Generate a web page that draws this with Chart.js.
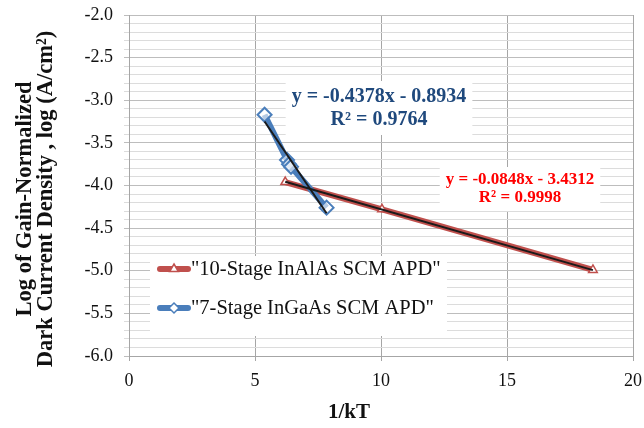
<!DOCTYPE html>
<html>
<head>
<meta charset="utf-8">
<title>Dark current vs 1/kT</title>
<script src="https://cdn.jsdelivr.net/npm/chart.js@4/dist/chart.umd.min.js"></script>
<style>
  html, body { margin: 0; padding: 0; background: #fff; }
  #wrap { width: 644px; height: 428px; position: relative; }
</style>
</head>
<body>
<div id="wrap"><canvas id="darkChart"></canvas></div>
<script>
// 10-Stage InAlAs SCM APD
const inalasX = [6.2, 10.04, 18.41];
const inalasY = [-3.96, -4.28, -4.99];
const inalasFit = { slope: -0.0848, intercept: -3.4312, r2: '0.9998' };

// 7-Stage InGaAs SCM APD
const ingaasX = [5.38, 6.27, 6.35, 6.43, 7.84];
const ingaasY = [-3.17, -3.70, -3.75, -3.78, -4.26];
const ingaasFit = { slope: -0.4378, intercept: -0.8934, r2: '0.9764' };

const seriesNames = ['"10-Stage InAlAs SCM APD"', '"7-Stage InGaAs SCM APD"'];
const xTicks = [0, 5, 10, 15, 20];
const yTicks = [-2.0, -2.5, -3.0, -3.5, -4.0, -4.5, -5.0, -5.5, -6.0];

const SERIF = '"Liberation Serif", "Times New Roman", serif';
const RED = '#C0504D';
const BLUE = '#4A7EBB';

function toPoints(xs, ys) {
  return xs.map((x, i) => ({ x: x, y: ys[i] }));
}

// linear trendline between the smallest and largest x of a series
function trendPoints(xs, fit) {
  const lo = Math.min(...xs), hi = Math.max(...xs);
  return [lo, hi].map(x => ({ x: x, y: fit.slope * x + fit.intercept }));
}

function isMajorY(v) {
  return yTicks.some(t => Math.abs(t - v) < 1e-6);
}

function eqText(fit) {
  const s = fit.intercept < 0 ? ' - ' : ' + ';
  return 'y = ' + fit.slope.toFixed(4) + 'x' + s + Math.abs(fit.intercept).toFixed(4);
}

// text box with white background (trendline equations)
function drawLabel(ctx, lines, cx, cy, size, gap, color) {
  ctx.save();
  ctx.font = 'bold ' + size + 'px ' + SERIF;
  const w = Math.max(...lines.map(l => ctx.measureText(l).width));
  const h = gap * lines.length;
  ctx.fillStyle = '#fff';
  ctx.fillRect(cx - w / 2 - 6, cy - h / 2 - 4, w + 12, h + 8);
  ctx.fillStyle = color;
  ctx.textAlign = 'center';
  ctx.textBaseline = 'middle';
  lines.forEach((l, i) => ctx.fillText(l, cx, cy - h / 2 + gap * (i + 0.5)));
  ctx.restore();
}

function drawMarker(ctx, kind, x, y, color) {
  ctx.save();
  ctx.fillStyle = '#fff';
  ctx.strokeStyle = color;
  ctx.lineWidth = 1.5;
  ctx.beginPath();
  const r = 5;
  if (kind === 'triangle') {
    ctx.moveTo(x, y - r);
    ctx.lineTo(x + r * 0.87, y + r * 0.5);
    ctx.lineTo(x - r * 0.87, y + r * 0.5);
  } else {
    ctx.moveTo(x, y - r);
    ctx.lineTo(x + r, y);
    ctx.lineTo(x, y + r);
    ctx.lineTo(x - r, y);
  }
  ctx.closePath();
  ctx.fill();
  ctx.stroke();
  ctx.restore();
}

const overlayPlugin = {
  id: 'overlay',
  afterDraw(chart) {
    const ctx = chart.ctx;

    // equations
    drawLabel(ctx, [eqText(ingaasFit), 'R² = ' + ingaasFit.r2], 379, 108, 20, 23, '#1F497D');
    drawLabel(ctx, [eqText(inalasFit), 'R² = ' + inalasFit.r2], 520, 189, 17, 18, '#FF0000');

    // legend
    ctx.save();
    ctx.fillStyle = '#fff';
    ctx.fillRect(150, 256, 297, 80);
    const rows = [
      { y: 269, color: RED, marker: 'triangle' },
      { y: 308, color: BLUE, marker: 'diamond' }
    ];
    rows.forEach((r, i) => {
      ctx.strokeStyle = r.color;
      ctx.lineWidth = 6;
      ctx.lineCap = 'round';
      ctx.beginPath();
      ctx.moveTo(160, r.y);
      ctx.lineTo(188, r.y);
      ctx.stroke();
      drawMarker(ctx, r.marker, 174, r.y, r.color);
      ctx.fillStyle = '#111';
      ctx.font = '20.5px ' + SERIF;
      ctx.textAlign = 'left';
      ctx.textBaseline = 'middle';
      ctx.fillText(seriesNames[i], 191, r.y + 1);
    });
    ctx.restore();

    // axis titles
    ctx.save();
    ctx.fillStyle = '#111';
    ctx.font = 'bold 21px ' + SERIF;
    ctx.textAlign = 'center';
    ctx.textBaseline = 'middle';
    ctx.fillText('1/kT', 349, 413);
    ctx.font = 'bold 22.5px ' + SERIF;
    ctx.translate(0, 199);
    ctx.rotate(-Math.PI / 2);
    ctx.fillText('Log of Gain-Normalized', 0, 25);
    ctx.fillText('Dark Current Density , log (A/cm²)', 0, 46);
    ctx.restore();
  }
};

const ctx = document.getElementById('darkChart').getContext('2d');

new Chart(ctx, {
  type: 'scatter',
  data: {
    datasets: [
      {
        label: 'InAlAs trend',
        data: trendPoints(inalasX, inalasFit),
        showLine: true,
        borderColor: '#1a1a1a',
        borderWidth: 2,
        pointRadius: 0,
        order: 1
      },
      {
        label: 'InGaAs trend',
        data: trendPoints(ingaasX, ingaasFit),
        showLine: true,
        borderColor: '#1a1a1a',
        borderWidth: 2,
        pointRadius: 0,
        order: 0
      },
      {
        label: seriesNames[0],
        data: toPoints(inalasX, inalasY),
        showLine: true,
        borderColor: RED,
        borderWidth: 6,
        pointStyle: 'triangle',
        pointRadius: 5,
        pointBackgroundColor: '#fff',
        pointBorderColor: RED,
        pointBorderWidth: 1.5,
        order: 3
      },
      {
        label: seriesNames[1],
        data: toPoints(ingaasX, ingaasY),
        showLine: true,
        borderColor: BLUE,
        borderWidth: 6,
        pointStyle: 'rectRot',
        pointRadius: 7,
        pointBackgroundColor: 'rgba(255,255,255,0.6)',
        pointBorderColor: BLUE,
        pointBorderWidth: 2,
        order: 2
      }
    ]
  },
  plugins: [overlayPlugin],
  options: {
    responsive: true,
    maintainAspectRatio: false,
    animation: false,
    layout: { padding: { top: 15, right: 11, left: 0, bottom: 0 } },
    plugins: {
      legend: { display: false },
      tooltip: { enabled: false }
    },
    scales: {
      x: {
        type: 'linear',
        min: 0,
        max: 20,
        afterFit(scale) {
          scale.height = 72;
          scale.paddingLeft = 0;
          scale.paddingRight = 0;
        },
        afterBuildTicks(scale) { scale.ticks = xTicks.map(v => ({ value: v })); },
        ticks: {
          color: '#111',
          font: { family: SERIF, size: 18 },
          padding: 9,
          maxRotation: 0
        },
        grid: { color: '#a6a6a6', tickLength: 5, lineWidth: 1 },
        border: { color: '#a6a6a6' }
      },
      y: {
        type: 'linear',
        min: -6,
        max: -2,
        afterFit(scale) {
          scale.width = 129;
          scale.paddingTop = 0;
          scale.paddingBottom = 0;
        },
        ticks: {
          stepSize: 0.1,
          autoSkip: false,
          color: '#111',
          font: { family: SERIF, size: 18 },
          padding: 11,
          callback: v => isMajorY(v) ? v.toFixed(1) : ''
        },
        grid: {
          tickLength: 5,
          color: c => isMajorY(c.tick.value) ? '#bdbdbd' : '#dcdcdc'
        },
        border: { color: '#a6a6a6' }
      }
    }
  }
});
</script>
</body>
</html>
